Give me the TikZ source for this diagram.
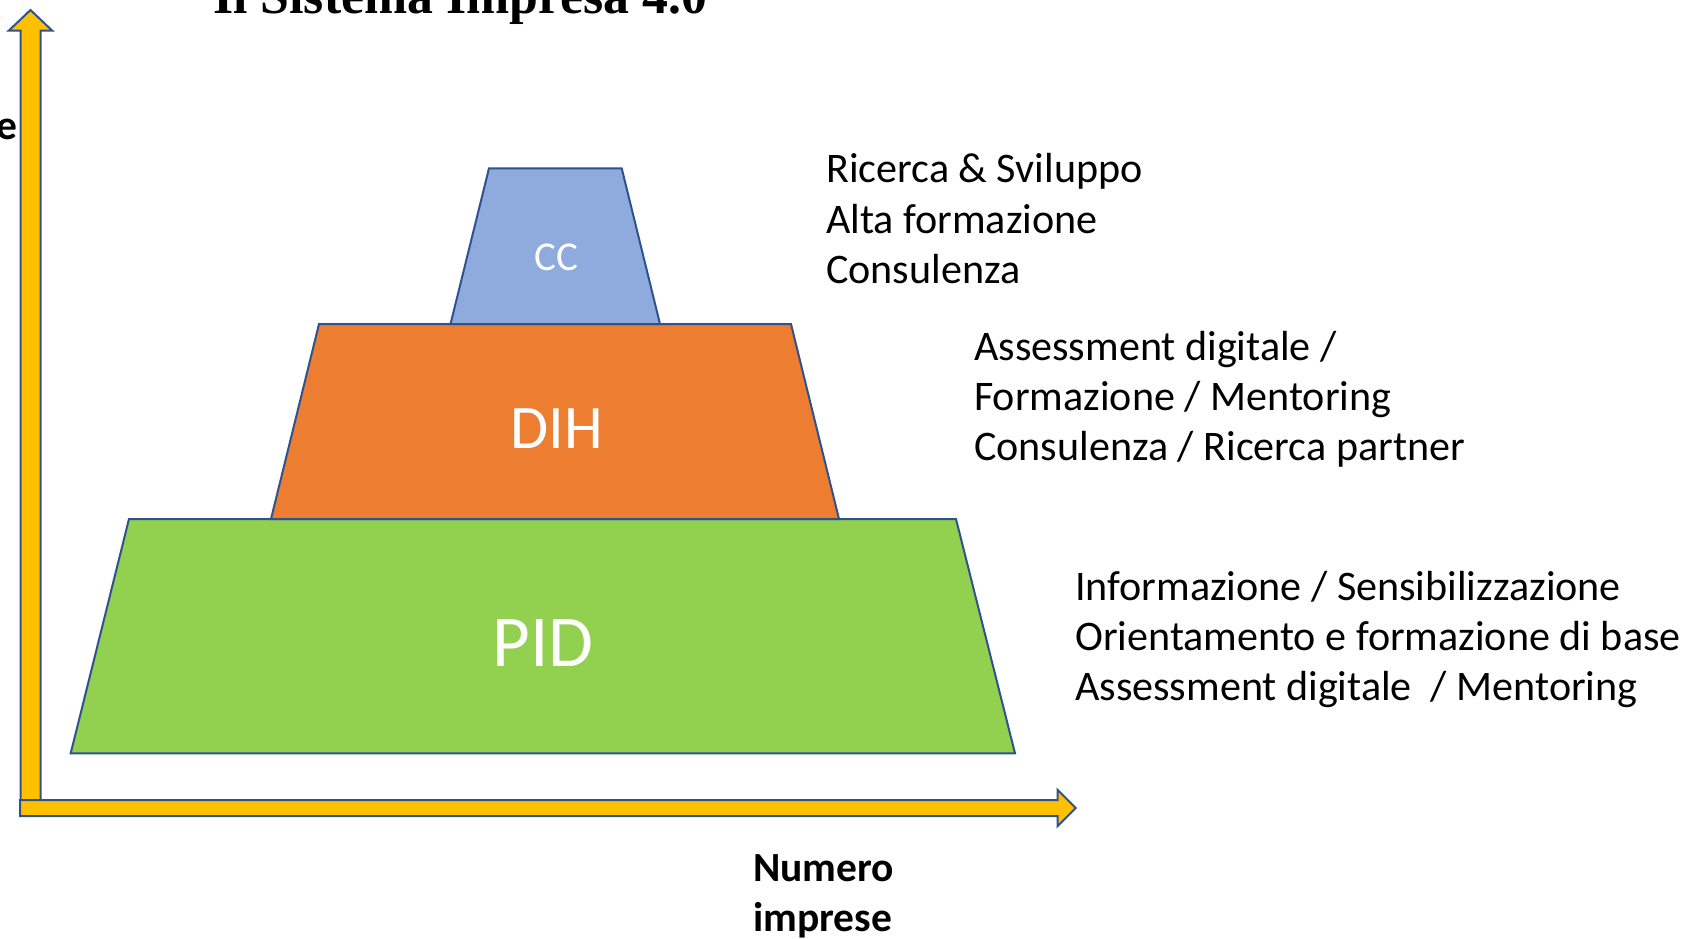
\documentclass[tikz,border=0pt]{standalone}
\usepackage{fontspec}
\setmainfont{Carlito}
\newfontfamily\titlefont{Liberation Serif}
\definecolor{edgeblue}{HTML}{2F528F}
\definecolor{axisfill}{HTML}{FFC000}
\definecolor{ccfill}{HTML}{8FAADC}
\definecolor{dihfill}{HTML}{ED7D31}
\definecolor{pidfill}{HTML}{92D050}
\begin{document}
\begin{tikzpicture}[x=1pt,y=-1pt,
  shapeline/.style={draw=edgeblue, line width=2pt, line join=miter},
  lbl/.style={anchor=base west, inner sep=0pt, font=\fontsize{42.1}{50.4}\selectfont},
  axlbl/.style={anchor=base west, inner sep=0pt, font=\bfseries\fontsize{41.5}{50.4}\selectfont},
  inlbl/.style={anchor=base, inner sep=0pt, text=white}]
\useasboundingbox (0,0) rectangle (1688,938);
% title
\node[anchor=base west, inner sep=0pt, font=\titlefont\bfseries\fontsize{51.8}{60}\selectfont] (title) at (213,13) {Il Sistema Impresa 4.0};
% vertical axis
\draw[shapeline, fill=axisfill] (20.5,810) -- (20.5,30.7) -- (8.7,30.7) -- (30.5,10) -- (52.3,30.7) -- (40.5,30.7) -- (40.5,810) -- cycle;
% horizontal axis
\draw[shapeline, fill=axisfill] (20,800) -- (1057.7,800) -- (1057.7,790) -- (1075.7,808) -- (1057.7,826) -- (1057.7,816) -- (20,816) -- cycle;
% pyramid
\draw[shapeline, fill=pidfill] (129,519) -- (956,519) -- (1015,753.3) -- (70.7,753.3) -- cycle;
\draw[shapeline, fill=dihfill] (319,324) -- (791,324) -- (839,519) -- (271,519) -- cycle;
\draw[shapeline, fill=ccfill] (489,168.3) -- (621.7,168.3) -- (660,324) -- (450.5,324) -- cycle;
\node[inlbl, font=\fontsize{41}{48}\selectfont] (cc) at (556.5,270) {CC};
\node[inlbl, font=\fontsize{62}{72}\selectfont] (dih) at (557,448) {DIH};
\node[inlbl, font=\fontsize{73}{84}\selectfont] (pid) at (543,666) {PID};
% axis labels
\node[anchor=base east, inner sep=0pt, font=\bfseries\fontsize{41.5}{50.4}\selectfont] (ylab) at (17.5,139) {e};
\node[axlbl] (xlab1) at (753,881) {Numero};
\node[axlbl] (xlab2) at (753,931) {imprese};
% CC description
\node[lbl] (c1) at (826,182.5) {Ricerca \& Sviluppo};
\node[lbl] (c2) at (826,233) {Alta formazione};
\node[lbl] (c3) at (826,283.3) {Consulenza};
% DIH description
\node[lbl] (d1) at (974,360) {Assessment digitale /};
\node[lbl] (d2) at (974,410.4) {Formazione / Mentoring};
\node[lbl] (d3) at (974,460.8) {Consulenza / Ricerca partner};
% PID description
\node[lbl] (p1) at (1075,600) {Informazione / Sensibilizzazione};
\node[lbl] (p2) at (1075,650.4) {Orientamento e formazione di base};
\node[lbl] (p3) at (1075,700.8) {Assessment digitale\ \ / Mentoring};
\end{tikzpicture}
\end{document}
